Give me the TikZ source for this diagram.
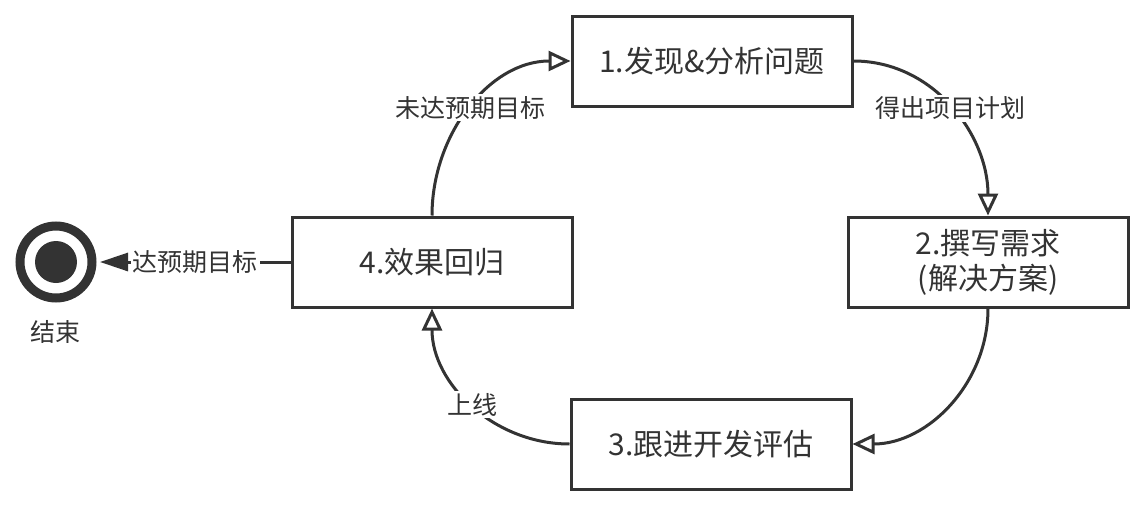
\documentclass[tikz,border=0pt]{standalone}
\usepackage{fontspec}
\setmainfont{Noto Sans CJK SC}
\usetikzlibrary{arrows.meta}
\definecolor{linegray}{HTML}{333333}
\begin{document}
\begin{tikzpicture}[x=0.5pt, y=-0.5pt,
        krok/.style={draw=linegray, line width=1.5pt, minimum width=140pt, minimum height=45pt,
            align=center, text=linegray, font=\fontsize{15}{17.5}\selectfont},
        strzalka/.style={draw=linegray, line width=1.5pt, -{Triangle[open, length=11pt, width=10pt]}},
        etykieta/.style={fill=white, text=linegray, inner sep=1pt, font=\fontsize{12.5}{15}\selectfont}]
        \useasboundingbox (0,0) rectangle (1142,504);

        % Kroki cyklu
        \node[krok] (faxian) at (712,61) {1.发现\&分析问题};
        \node[krok] (xuqiu) at (988,262) {2.撰写需求\\(解决方案)};
        \node[krok] (genjin) at (711,444) {3.跟进开发评估};
        \node[krok] (huigui) at (432,262) {4.效果回归};

        % Koniec
        \draw[linegray, line width=4.5pt] (56,262) circle (36);
        \fill[linegray] (56,262) circle (21);
        \coordinate (jieshu) at (100,262);
        \node[text=linegray, font=\fontsize{12.5}{15}\selectfont] at (56,332) {结束};

        % Cykl
        \draw[strzalka] (faxian.east) to[out=0, in=90] node[etykieta, midway] {得出项目计划} (xuqiu.north);
        \draw[strzalka] (xuqiu.south) to[out=-90, in=0] (genjin.east);
        \draw[strzalka] (genjin.west) to[out=180, in=-90] node[etykieta, midway] {上线} (huigui.south);
        \draw[strzalka] (huigui.north) to[out=90, in=180] node[etykieta, midway] {未达预期目标} (faxian.west);

        % Wyjscie
        \draw[draw=linegray, line width=1.5pt, -{Triangle[length=14pt, width=9pt]}] (huigui.west) -- node[etykieta, midway] {达预期目标} (jieshu);
    \end{tikzpicture}
\end{document}
